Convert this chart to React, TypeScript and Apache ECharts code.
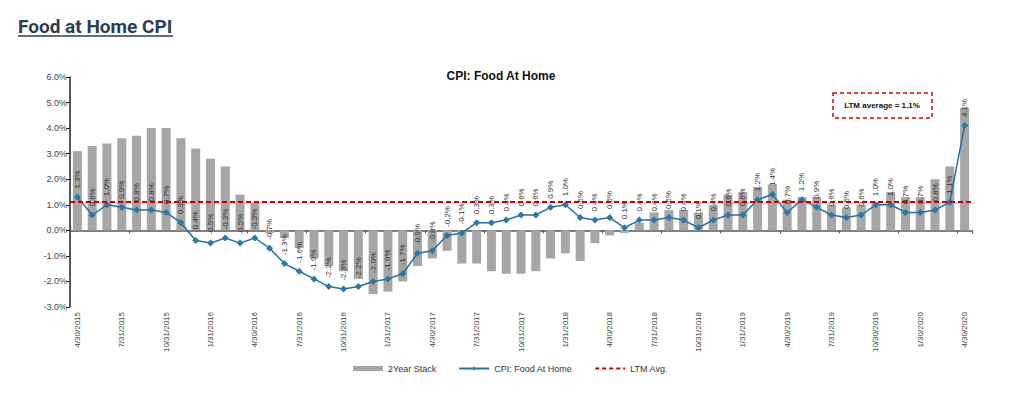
import React, { useEffect, useRef } from "react";
import * as echarts from "echarts";

const dates: string[] = [
  "4/30/2015", "5/31/2015", "6/30/2015", "7/31/2015", "8/31/2015", "9/30/2015", "10/31/2015", "11/30/2015", "12/31/2015",
  "1/31/2016", "2/29/2016", "3/31/2016", "4/30/2016", "5/31/2016", "6/30/2016", "7/31/2016", "8/31/2016", "9/30/2016", "10/31/2016", "11/30/2016", "12/31/2016",
  "1/31/2017", "2/28/2017", "3/31/2017", "4/30/2017", "5/31/2017", "6/30/2017", "7/31/2017", "8/31/2017", "9/30/2017", "10/31/2017", "11/30/2017", "12/31/2017",
  "1/31/2018", "2/28/2018", "3/31/2018", "4/30/2018", "5/31/2018", "6/30/2018", "7/31/2018", "8/31/2018", "9/30/2018", "10/31/2018", "11/30/2018", "12/31/2018",
  "1/31/2019", "2/28/2019", "3/31/2019", "4/30/2019", "5/31/2019", "6/30/2019", "7/31/2019", "8/31/2019", "9/30/2019", "10/30/2019", "11/30/2019", "12/31/2019",
  "1/30/2020", "2/29/2020", "3/31/2020", "4/30/2020",
];

// 2-year stack (%)
const twoYearStack: number[] = [
  3.1, 3.3, 3.4, 3.6, 3.7, 4.0, 4.0, 3.6, 3.2,
  2.8, 2.5, 1.4, 1.1, -0.1, -0.3, -0.7, -1.1, -1.4, -1.6, -1.9, -2.5,
  -2.4, -2.0, -1.4, -1.1, -0.8, -1.3, -1.3, -1.6, -1.7, -1.7, -1.6, -1.1,
  -0.9, -1.2, -0.5, -0.2, -0.1, 0.3, 0.7, 0.8, 0.8, 0.7, 1.0, 1.4,
  1.5, 1.7, 1.8, 1.2, 1.3, 1.3, 1.0, 0.9, 1.0, 1.1, 1.5, 1.3,
  1.3, 2.0, 2.5, 4.8,
];

// CPI: Food At Home, y/y (%)
const cpiFoodAtHome: number[] = [
  1.3, 0.6, 1.0, 0.9, 0.8, 0.8, 0.7, 0.3, -0.4,
  -0.5, -0.3, -0.5, -0.3, -0.7, -1.3, -1.6, -1.9, -2.2, -2.3, -2.2, -2.0,
  -1.9, -1.7, -0.9, -0.8, -0.2, -0.1, 0.3, 0.3, 0.4, 0.6, 0.6, 0.9,
  1.0, 0.5, 0.4, 0.5, 0.1, 0.4, 0.4, 0.5, 0.4, 0.1, 0.4, 0.6,
  0.6, 1.2, 1.4, 0.7, 1.2, 0.9, 0.6, 0.5, 0.6, 1.0, 1.0, 0.7,
  0.7, 0.8, 1.1, 4.1,
];

const LTM_AVG = 1.1;
const Y_MIN = -3;
const Y_MAX = 6;
const Y_STEP = 1;

const FONT = "'Liberation Sans', Arial, sans-serif";

export default function App() {
  const ref = useRef<HTMLDivElement>(null);

  useEffect(() => {
    if (!ref.current) return;
    const chart = echarts.init(ref.current, undefined, { renderer: "svg" });

    const option: any = {
      animation: false,
      backgroundColor: "#ffffff",
      textStyle: { fontFamily: FONT },
      grid: { left: 70, right: 50, top: 77, bottom: 98, containLabel: false },
      legend: {
        left: 348,
        top: 359,
        itemWidth: 30,
        itemHeight: 5,
        itemGap: 22,
        textStyle: { fontSize: 9, color: "#333", fontFamily: FONT },
        data: [
          { name: "2Year Stack", icon: "rect" },
          { name: "CPI: Food At Home" },
          { name: "LTM Avg.", itemStyle: { opacity: 0 } },
        ],
      },
      xAxis: [
        {
          type: "category",
          data: dates,
          boundaryGap: true,
          axisLine: { show: false, onZero: false },
          axisTick: { show: false },
          axisLabel: {
            interval: 2,
            rotate: 90,
            fontSize: 8,
            color: "#444",
            margin: 5,
            fontFamily: FONT,
          },
          splitLine: { show: false },
        },
        {
          type: "category",
          data: dates,
          boundaryGap: true,
          position: "bottom",
          axisLine: {
            show: true,
            onZero: true,
            onZeroAxisIndex: 0,
            lineStyle: { color: "#555", width: 1.5 },
          },
          axisTick: { show: true, interval: 3, length: 3, lineStyle: { color: "#555" } },
          axisLabel: { show: false },
          splitLine: { show: false },
        },
      ],
      yAxis: {
        type: "value",
        min: Y_MIN,
        max: Y_MAX,
        interval: Y_STEP,
        axisLine: { show: true, lineStyle: { color: "#222", width: 1.5 } },
        axisTick: { show: true, length: 4, lineStyle: { color: "#222" } },
        axisLabel: {
          fontSize: 9,
          color: "#444",
          margin: 3,
          fontFamily: FONT,
          formatter: (v: number) => v.toFixed(1) + "%",
        },
        splitLine: { show: false },
      },
      series: [
        {
          name: "2Year Stack",
          type: "bar",
          xAxisIndex: 0,
          data: twoYearStack,
          barWidth: 9,
          itemStyle: { color: "#a6a6a6" },
          z: 1,
        },
        {
          name: "CPI: Food At Home",
          type: "line",
          xAxisIndex: 0,
          data: cpiFoodAtHome,
          symbol: "diamond",
          symbolSize: 7,
          lineStyle: { color: "#2b6f99", width: 1.5 },
          itemStyle: { color: "#2b78a6" },
          z: 4,
          label: {
            show: true,
            position: "top",
            distance: 5,
            rotate: 90,
            align: "left",
            verticalAlign: "middle",
            fontSize: 8,
            color: "#333",
            fontFamily: FONT,
            formatter: (p: any) => Number(p.value).toFixed(1) + "%",
          },
        },
        {
          name: "LTM Avg.",
          type: "line",
          xAxisIndex: 0,
          data: [],
          symbol: "none",
          itemStyle: { color: "#cc0000" },
          lineStyle: { color: "#cc0000", type: [4, 3], width: 1.5 },
          z: 3,
          markLine: {
            silent: true,
            symbol: "none",
            label: { show: false },
            lineStyle: { color: "#cc0000", type: [5, 3], width: 2 },
            data: [{ yAxis: LTM_AVG }],
          },
        },
      ],
      graphic: [
        {
          type: "text",
          x: 18,
          y: 26,
          style: {
            text: "Food at Home CPI",
            font: "bold 19px Roboto, 'Noto Sans', sans-serif",
            fill: "#2c3e50",
            verticalAlign: "middle",
          },
        },
        {
          type: "line",
          shape: { x1: 18, y1: 36, x2: 173, y2: 36 },
          style: { stroke: "#2c3e50", lineWidth: 1.5 },
        },
        {
          type: "text",
          x: 501,
          y: 76,
          style: {
            text: "CPI: Food At Home",
            font: "bold 12px 'Liberation Sans', Arial, sans-serif",
            fill: "#111",
            align: "center",
            verticalAlign: "middle",
          },
        },
        {
          type: "rect",
          shape: { x: 833, y: 93, width: 99, height: 25 },
          style: { fill: "#ffffff", stroke: "#cc0000", lineWidth: 1.5, lineDash: [4, 3] },
          z: 10,
        },
        {
          type: "text",
          x: 882,
          y: 105.5,
          z: 11,
          style: {
            text: "LTM average = " + LTM_AVG.toFixed(1) + "%",
            font: "bold 8px 'Liberation Sans', Arial, sans-serif",
            fill: "#111",
            align: "center",
            verticalAlign: "middle",
          },
        },
      ],
    };

    chart.setOption(option);
    return () => {
      chart.dispose();
    };
  }, []);

  return (
    <div
      ref={ref}
      style={{ position: "fixed", left: 0, top: 0, width: 1022, height: 405, background: "#fff" }}
    />
  );
}
